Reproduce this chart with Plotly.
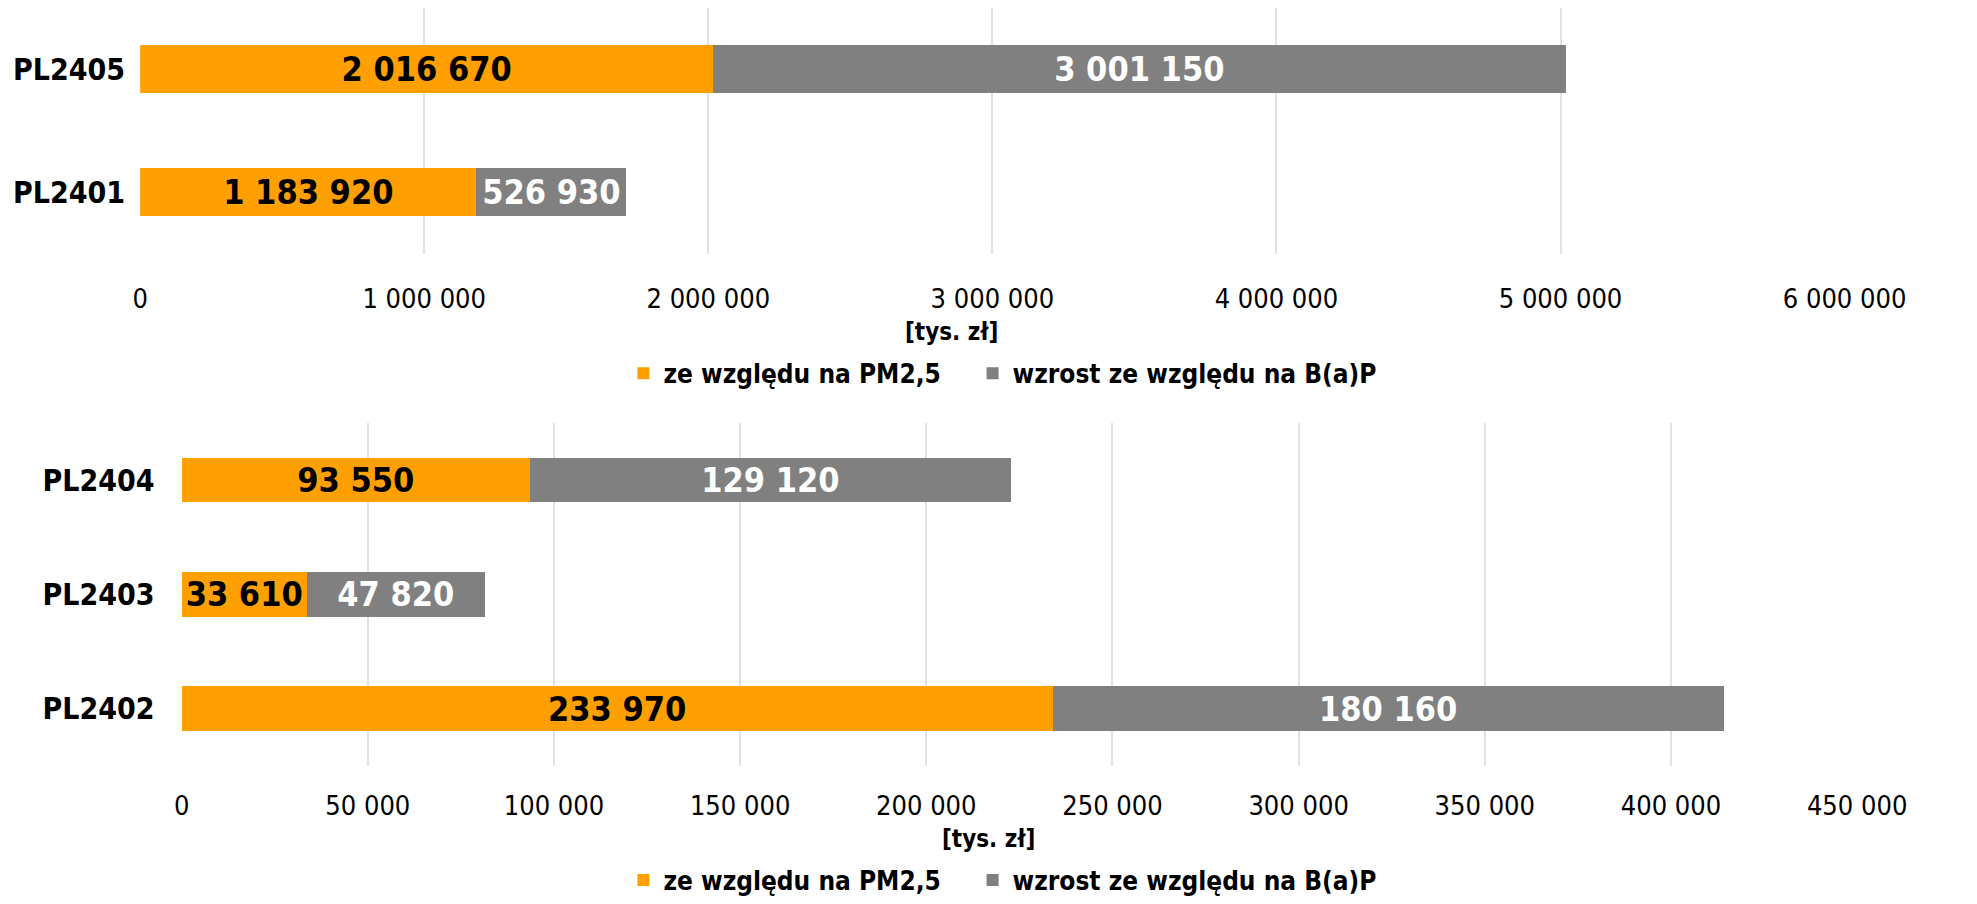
import plotly.graph_objects as go

# Upper panel regions, listed bottom-to-top
top_regions = ["PL2401", "PL2405"]
top_pm25 = [1183920, 2016670]
top_bap = [526930, 3001150]

# Lower panel regions, listed bottom-to-top
bottom_regions = ["PL2402", "PL2403", "PL2404"]
bottom_pm25 = [233970, 33610, 93550]
bottom_bap = [180160, 47820, 129120]

series_names = ["ze względu na PM2,5", "wzrost ze względu na B(a)P"]
axis_title = "[tys. zł]"

ORANGE = "#FFA000"
GREY = "#808080"
GRID = "#E2E2E2"
FONT = "DejaVu Sans Condensed"
LABEL_SIZE = 34

W, H = 1977, 904

fig = go.Figure()


def add_panel(regions, pm, bap, xa, ya, legends, bar_width):
    for vals, name, color, txt, lg in (
        (pm, series_names[0], ORANGE, "black", legends[0]),
        (bap, series_names[1], GREY, "white", legends[1]),
    ):
        fig.add_trace(go.Bar(
            y=regions, x=vals, orientation="h", name=name, showlegend=True,
            marker=dict(color=color, line=dict(width=0)),
            texttemplate="%{x:,.0f}", textposition="inside", insidetextanchor="middle",
            textfont=dict(family=FONT, size=LABEL_SIZE, color=txt, weight="bold"),
            xaxis=xa, yaxis=ya, legend=lg, width=bar_width,
        ))


add_panel(top_regions, top_pm25, top_bap, "x", "y", ("legend", "legend2"), 0.39)
add_panel(bottom_regions, bottom_pm25, bottom_bap, "x2", "y2", ("legend3", "legend4"), 0.39)


def px_x(v):
    return v / W


def px_y(v):
    return 1 - v / H


def xaxis_style(ticklen):
    return dict(
        showgrid=True, gridcolor=GRID, gridwidth=1.5, zeroline=False, tickformat=",d",
        showline=False, ticks="outside", ticklen=ticklen, tickcolor="rgba(0,0,0,0)",
        tickfont=dict(family=FONT, size=27, color="black"),
    )


ycommon = dict(
    showgrid=False, zeroline=False, showline=False, ticks="",
    tickfont=dict(family=FONT, size=30, color="black", weight="bold"),
)


def legend_at(x, y):
    return dict(
        x=px_x(x), y=px_y(y), orientation="h", xanchor="left", yanchor="middle",
        font=dict(family=FONT, size=26, color="black", weight="bold"),
        bgcolor="rgba(0,0,0,0)",
    )


title_font = dict(family=FONT, size=24, color="black", weight="bold")

fig.update_layout(
    width=W, height=H,
    margin=dict(l=0, r=0, t=0, b=0),
    paper_bgcolor="white", plot_bgcolor="white",
    barmode="stack",
    showlegend=True,
    separators=", ",
    uniformtext=dict(minsize=LABEL_SIZE, mode="show"),
    xaxis=dict(domain=[px_x(137), px_x(1904)], range=[0, 6000000], dtick=1000000,
               anchor="y", **xaxis_style(21)),
    yaxis=dict(domain=[px_y(255), px_y(8)], range=[-0.5, 1.5], anchor="x",
               ticklabelstandoff=14, **ycommon),
    xaxis2=dict(domain=[px_x(180), px_x(1917)], range=[0, 450000], dtick=50000,
                anchor="y2", **xaxis_style(16)),
    yaxis2=dict(domain=[px_y(769), px_y(425)], range=[-0.5, 2.5], anchor="x2",
                ticklabelstandoff=26, **ycommon),
    legend=legend_at(638, 375),
    legend2=legend_at(1000, 375),
    legend3=legend_at(638, 884),
    legend4=legend_at(1000, 884),
    annotations=[
        dict(text=axis_title, x=px_x(978), y=px_y(333), xref="paper", yref="paper",
             showarrow=False, xanchor="center", yanchor="middle", font=title_font),
        dict(text=axis_title, x=px_x(1016), y=px_y(843), xref="paper", yref="paper",
             showarrow=False, xanchor="center", yanchor="middle", font=title_font),
    ],
)

fig.write_html("out.html")
